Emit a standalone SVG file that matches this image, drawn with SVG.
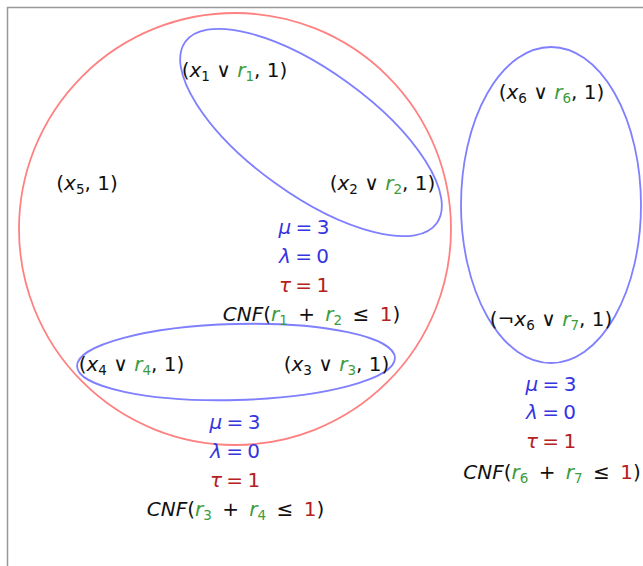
<svg xmlns="http://www.w3.org/2000/svg" width="643" height="566" viewBox="0 0 643 566">
<style>
.t{font-family:"DejaVu Sans",sans-serif;font-size:20px;fill:#111;text-anchor:middle}
.i{font-style:italic}
.s{font-size:13.5px}
.g{fill:#3c9c3c}
.b{fill:#3535e0}
.r{fill:#b52020}
.m{word-spacing:-2px}
.w{word-spacing:4px}
.be{fill:none;stroke:#7f7fff;stroke-width:1.8}
.re{fill:none;stroke:#ff8080;stroke-width:1.8}
</style>
<rect width="643" height="566" fill="#fff"/>
<path d="M7.5,566 V7.5 H643" fill="none" stroke="#999" stroke-width="1.5"/>
<g id="sets">
<circle id="bigcircle" class="re" cx="235" cy="229" r="216"/>
<ellipse id="e12" class="be" cx="311" cy="132.5" rx="155" ry="62" transform="rotate(35.8 311 132.5)"/>
<ellipse id="e34" class="be" cx="236" cy="362" rx="159" ry="38" transform="rotate(-1.5 236 362)"/>
<ellipse id="e67" class="be" cx="551" cy="205" rx="90" ry="158"/>
</g>
<g id="connectors"></g>
<g id="n1"><text class="t" x="234.5" y="77">(<tspan class="i">x</tspan><tspan class="s" dy="4">1</tspan><tspan dy="-4"> ∨ </tspan><tspan class="i g">r</tspan><tspan class="s g" dy="4">1</tspan><tspan dy="-4">, 1)</tspan></text></g>
<g id="n2"><text class="t" x="382.5" y="190">(<tspan class="i">x</tspan><tspan class="s" dy="4">2</tspan><tspan dy="-4"> ∨ </tspan><tspan class="i g">r</tspan><tspan class="s g" dy="4">2</tspan><tspan dy="-4">, 1)</tspan></text></g>
<g id="n5"><text class="t" x="87" y="190">(<tspan class="i">x</tspan><tspan class="s" dy="4">5</tspan><tspan dy="-4">, 1)</tspan></text></g>
<g id="n4"><text class="t" x="131.5" y="371">(<tspan class="i">x</tspan><tspan class="s" dy="4">4</tspan><tspan dy="-4"> ∨ </tspan><tspan class="i g">r</tspan><tspan class="s g" dy="4">4</tspan><tspan dy="-4">, 1)</tspan></text></g>
<g id="n3"><text class="t" x="336.5" y="371">(<tspan class="i">x</tspan><tspan class="s" dy="4">3</tspan><tspan dy="-4"> ∨ </tspan><tspan class="i g">r</tspan><tspan class="s g" dy="4">3</tspan><tspan dy="-4">, 1)</tspan></text></g>
<g id="n6"><text class="t" x="551.5" y="99">(<tspan class="i">x</tspan><tspan class="s" dy="4">6</tspan><tspan dy="-4"> ∨ </tspan><tspan class="i g">r</tspan><tspan class="s g" dy="4">6</tspan><tspan dy="-4">, 1)</tspan></text></g>
<g id="n7"><text class="t" x="551" y="326">(¬<tspan class="i">x</tspan><tspan class="s" dy="4">6</tspan><tspan dy="-4"> ∨ </tspan><tspan class="i g">r</tspan><tspan class="s g" dy="4">7</tspan><tspan dy="-4">, 1)</tspan></text></g>
<g id="c12">
<text class="t b m" x="304" y="234"><tspan class="i">μ</tspan> = 3</text>
<text class="t b m" x="304" y="263"><tspan class="i">λ</tspan> = 0</text>
<text class="t r m" x="304" y="292"><tspan class="i">τ</tspan> = 1</text>
<text class="t w" x="311.5" y="321"><tspan class="i">CNF</tspan>(<tspan class="i g">r</tspan><tspan class="s g" dy="4">1</tspan><tspan dy="-4"> + </tspan><tspan class="i g">r</tspan><tspan class="s g" dy="4">2</tspan><tspan dy="-4"> ≤ </tspan><tspan class="r">1</tspan>)</text>
</g>
<g id="c34">
<text class="t b m" x="235" y="429"><tspan class="i">μ</tspan> = 3</text>
<text class="t b m" x="235" y="458"><tspan class="i">λ</tspan> = 0</text>
<text class="t r m" x="235" y="487"><tspan class="i">τ</tspan> = 1</text>
<text class="t w" x="235.5" y="516"><tspan class="i">CNF</tspan>(<tspan class="i g">r</tspan><tspan class="s g" dy="4">3</tspan><tspan dy="-4"> + </tspan><tspan class="i g">r</tspan><tspan class="s g" dy="4">4</tspan><tspan dy="-4"> ≤ </tspan><tspan class="r">1</tspan>)</text>
</g>
<g id="c67">
<text class="t b m" x="551" y="391"><tspan class="i">μ</tspan> = 3</text>
<text class="t b m" x="551" y="419"><tspan class="i">λ</tspan> = 0</text>
<text class="t r m" x="551" y="448"><tspan class="i">τ</tspan> = 1</text>
<text class="t w" x="552" y="479"><tspan class="i">CNF</tspan>(<tspan class="i g">r</tspan><tspan class="s g" dy="4">6</tspan><tspan dy="-4"> + </tspan><tspan class="i g">r</tspan><tspan class="s g" dy="4">7</tspan><tspan dy="-4"> ≤ </tspan><tspan class="r">1</tspan>)</text>
</g>
</svg>
